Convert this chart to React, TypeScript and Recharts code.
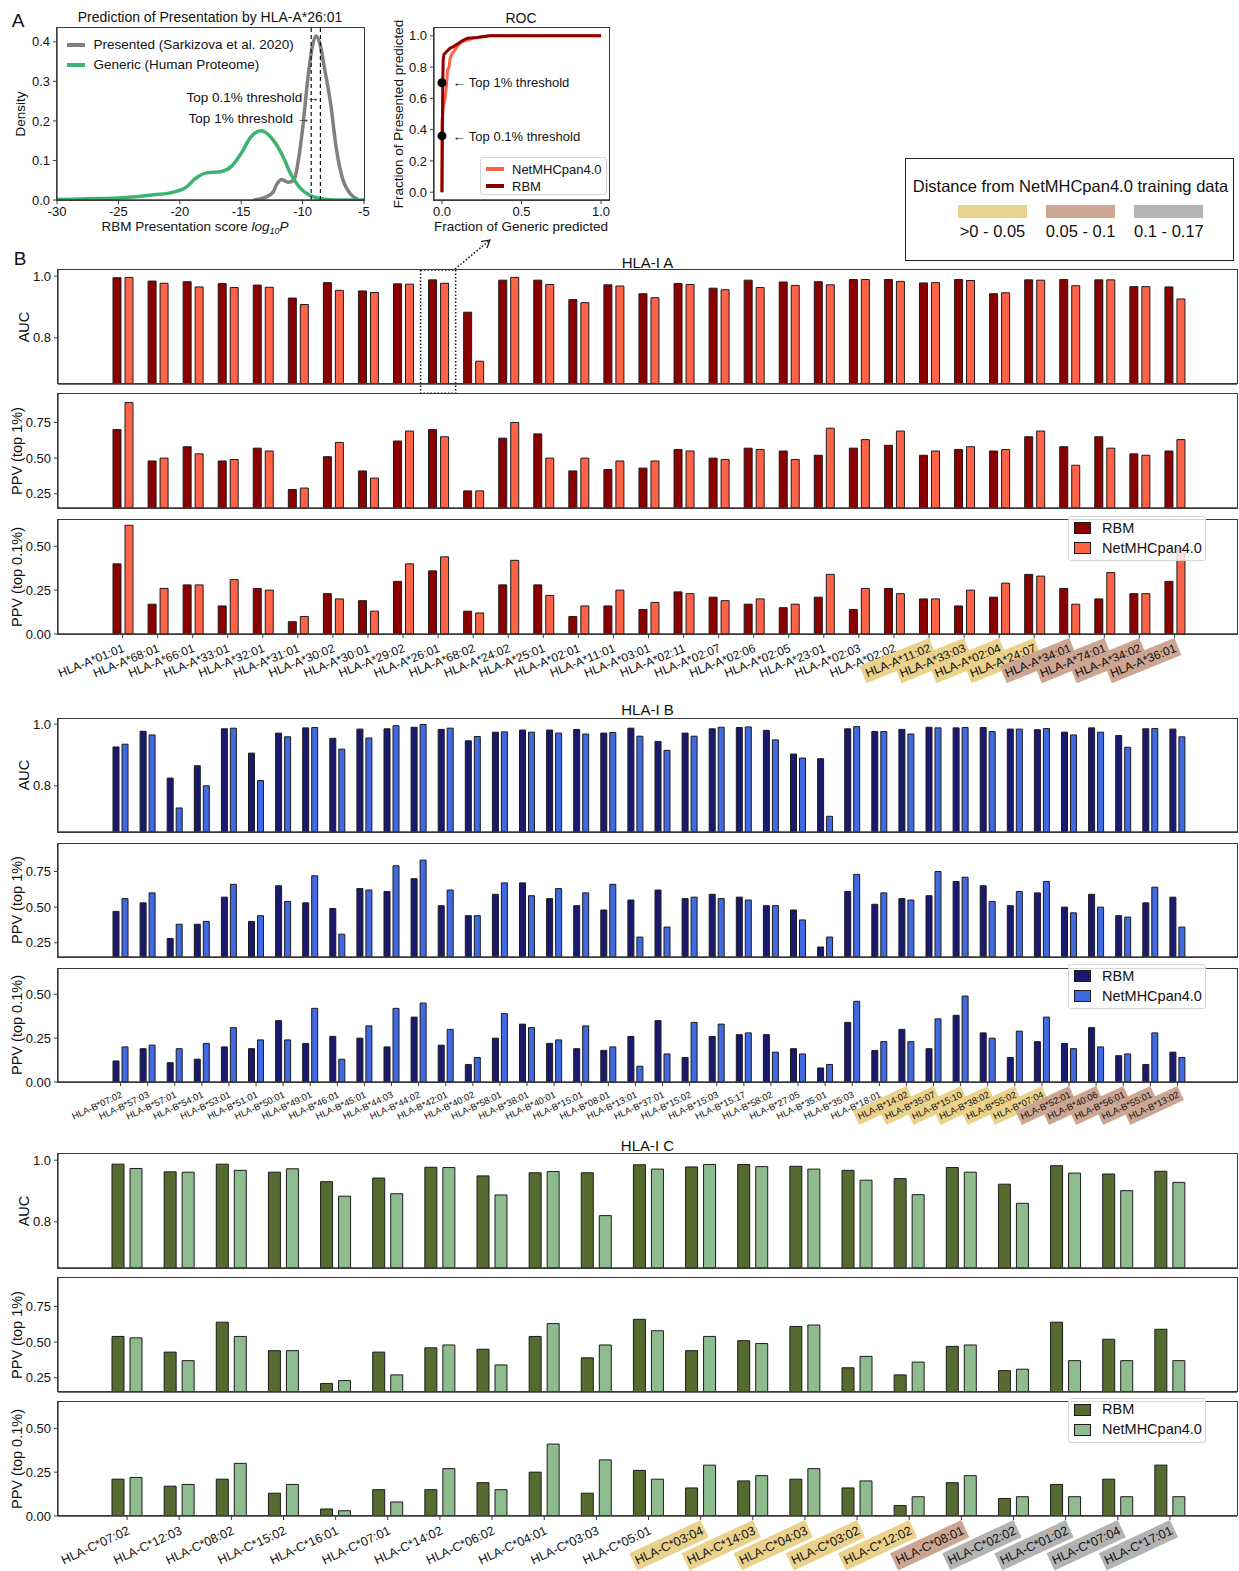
import React from "react";
import {
  BarChart,
  Bar,
  LineChart,
  Line,
  XAxis,
  YAxis,
  ReferenceArea,
  ReferenceLine,
  ReferenceDot,
} from "recharts";

const FONT = "'Liberation Sans', Arial, Helvetica, sans-serif";
const INK = "#111";
const FRAME = "#3a3a3a";
const EDGE = "#1c1c1c";

const GRAY_LINE = "#808080";
const GREEN_LINE = "#3CB371";
const RED_DARK = "#8B0000";
const RED_LIGHT = "#FF6347";
const BLUE_DARK = "#191970";
const BLUE_LIGHT = "#4169E1";
const OLIVE_DARK = "#556B2F";
const OLIVE_LIGHT = "#8FBC8F";

const DIST_COLORS = ["none", "#EBD28C", "#CDA693", "#B3B3B3"];
const DIST_LABELS = [">0 - 0.05", "0.05 - 0.1", "0.1 - 0.17"];

// ---- panel A: density of RBM presentation score
const GENERIC_X = [-30, -27.5, -25, -22.1, -20.5, -19.5, -18.7, -17.9, -16.6, -15.8, -15.0, -14.2, -13.4, -12.4, -11.6, -11.0, -10.3, -9.5, -8.5, -7.5, -5];
const GENERIC_Y = [0.001, 0.003, 0.005, 0.013, 0.02, 0.032, 0.055, 0.068, 0.072, 0.085, 0.118, 0.16, 0.175, 0.152, 0.11, 0.068, 0.034, 0.013, 0.003, 0, 0];
const PRESENTED_X = [-14.0, -13.1, -12.4, -12.1, -11.7, -11.2, -10.7, -10.4, -10.0, -9.6, -9.2, -8.9, -8.55, -8.2, -7.7, -7.3, -6.8, -6.1, -5.5];
const PRESENTED_Y = [0, 0.006, 0.02, 0.04, 0.052, 0.045, 0.05, 0.09, 0.18, 0.3, 0.39, 0.415, 0.39, 0.33, 0.24, 0.14, 0.06, 0.015, 0.002];
const DENS_XTICKS = [-30, -25, -20, -15, -10, -5];
const DENS_YTICKS = [0, 0.1, 0.2, 0.3, 0.4];
const DENS_THRESH_X = [-9.3, -8.55];
const DENS_THRESH_Y = [0.207, 0.259];
const DENS_THRESH_TEXT = ["Top 1% threshold \u2192", "Top 0.1% threshold  \u2192"];

// ---- panel A: ROC
const NET_FPR = [0, 0, 0.01, 0.02, 0.03, 0.035, 0.045, 0.05, 0.06, 0.075, 0.095, 0.12, 0.15, 0.2, 0.3, 1.0];
const NET_TPR = [0, 0.45, 0.55, 0.6, 0.7, 0.78, 0.8, 0.85, 0.88, 0.9, 0.93, 0.96, 0.97, 0.985, 1.0, 1.0];
const RBM_FPR = [0, 0.005, 0.008, 0.012, 0.03, 0.05, 0.07, 0.1, 0.13, 0.16, 0.22, 0.3, 1.0];
const RBM_TPR = [0, 0.7, 0.85, 0.88, 0.9, 0.92, 0.93, 0.95, 0.97, 0.985, 0.99, 1.0, 1.0];
const ROC_TICKS_X = [0, 0.5, 1];
const ROC_TICKS_Y = [0, 0.2, 0.4, 0.6, 0.8, 1.0];
const ROC_THRESH_TPR = [0.7, 0.36];
const ROC_THRESH_TEXT = ["\u2190  Top 1% threshold", "\u2190  Top 0.1% threshold"];

// ---- panel B: HLA-I A
const A_ALLELES = ["HLA-A*01:01", "HLA-A*68:01", "HLA-A*66:01", "HLA-A*33:01", "HLA-A*32:01", "HLA-A*31:01", "HLA-A*30:02", "HLA-A*30:01", "HLA-A*29:02", "HLA-A*26:01", "HLA-A*68:02", "HLA-A*24:02", "HLA-A*25:01", "HLA-A*02:01", "HLA-A*11:01", "HLA-A*03:01", "HLA-A*02:11", "HLA-A*02:07", "HLA-A*02:06", "HLA-A*02:05", "HLA-A*23:01", "HLA-A*02:03", "HLA-A*02:02", "HLA-A*11:02", "HLA-A*33:03", "HLA-A*02:04", "HLA-A*24:07", "HLA-A*34:01", "HLA-A*74:01", "HLA-A*34:02", "HLA-A*36:01"];
const A_DIST = [0, 0, 0, 0, 0, 0, 0, 0, 0, 0, 0, 0, 0, 0, 0, 0, 0, 0, 0, 0, 0, 0, 0, 1, 1, 1, 1, 2, 2, 2, 2];
const A_RBM_AUC = [0.995, 0.984, 0.982, 0.976, 0.971, 0.929, 0.979, 0.952, 0.975, 0.988, 0.883, 0.987, 0.987, 0.924, 0.972, 0.943, 0.976, 0.961, 0.987, 0.981, 0.982, 0.989, 0.989, 0.978, 0.989, 0.943, 0.988, 0.989, 0.988, 0.966, 0.965];
const A_NET_AUC = [0.996, 0.977, 0.965, 0.963, 0.964, 0.908, 0.954, 0.947, 0.974, 0.977, 0.724, 0.996, 0.973, 0.914, 0.968, 0.93, 0.973, 0.956, 0.963, 0.97, 0.972, 0.989, 0.983, 0.979, 0.986, 0.946, 0.987, 0.969, 0.988, 0.966, 0.926];
const A_RBM_PPV1 = [0.7, 0.48, 0.58, 0.48, 0.57, 0.28, 0.51, 0.41, 0.62, 0.7, 0.27, 0.64, 0.67, 0.41, 0.42, 0.43, 0.56, 0.5, 0.57, 0.55, 0.52, 0.57, 0.59, 0.52, 0.56, 0.55, 0.65, 0.58, 0.65, 0.53, 0.55];
const A_NET_PPV1 = [0.89, 0.5, 0.53, 0.49, 0.55, 0.29, 0.61, 0.36, 0.69, 0.65, 0.27, 0.75, 0.5, 0.5, 0.48, 0.48, 0.55, 0.49, 0.56, 0.49, 0.71, 0.63, 0.69, 0.55, 0.58, 0.56, 0.69, 0.45, 0.57, 0.52, 0.63];
const A_RBM_PPV01 = [0.4, 0.17, 0.28, 0.16, 0.26, 0.07, 0.23, 0.19, 0.3, 0.36, 0.13, 0.28, 0.28, 0.1, 0.16, 0.14, 0.24, 0.21, 0.17, 0.15, 0.21, 0.14, 0.26, 0.2, 0.16, 0.21, 0.34, 0.26, 0.2, 0.23, 0.3];
const A_NET_PPV01 = [0.62, 0.26, 0.28, 0.31, 0.25, 0.1, 0.2, 0.13, 0.4, 0.44, 0.12, 0.42, 0.22, 0.16, 0.25, 0.18, 0.23, 0.19, 0.2, 0.17, 0.34, 0.26, 0.23, 0.2, 0.25, 0.29, 0.33, 0.17, 0.35, 0.23, 0.49];

// ---- panel B: HLA-I B
const B_ALLELES = ["HLA-B*07:02", "HLA-B*57:03", "HLA-B*57:01", "HLA-B*54:01", "HLA-B*53:01", "HLA-B*51:01", "HLA-B*50:01", "HLA-B*49:01", "HLA-B*46:01", "HLA-B*45:01", "HLA-B*44:03", "HLA-B*44:02", "HLA-B*42:01", "HLA-B*40:02", "HLA-B*58:01", "HLA-B*38:01", "HLA-B*40:01", "HLA-B*15:01", "HLA-B*08:01", "HLA-B*13:01", "HLA-B*37:01", "HLA-B*15:02", "HLA-B*15:03", "HLA-B*15:17", "HLA-B*58:02", "HLA-B*27:05", "HLA-B*35:01", "HLA-B*35:03", "HLA-B*18:01", "HLA-B*14:02", "HLA-B*35:07", "HLA-B*15:10", "HLA-B*38:02", "HLA-B*55:02", "HLA-B*07:04", "HLA-B*52:01", "HLA-B*40:06", "HLA-B*56:01", "HLA-B*55:01", "HLA-B*13:02"];
const B_DIST = [0, 0, 0, 0, 0, 0, 0, 0, 0, 0, 0, 0, 0, 0, 0, 0, 0, 0, 0, 0, 0, 0, 0, 0, 0, 0, 0, 0, 0, 1, 1, 1, 1, 1, 1, 2, 2, 2, 2, 2];
const B_RBM_AUC = [0.926, 0.977, 0.825, 0.865, 0.985, 0.906, 0.971, 0.988, 0.954, 0.984, 0.985, 0.99, 0.983, 0.946, 0.974, 0.981, 0.981, 0.983, 0.971, 0.987, 0.944, 0.971, 0.985, 0.989, 0.98, 0.903, 0.888, 0.985, 0.976, 0.983, 0.99, 0.988, 0.989, 0.984, 0.982, 0.974, 0.988, 0.963, 0.985, 0.984];
const B_NET_AUC = [0.935, 0.965, 0.728, 0.8, 0.987, 0.817, 0.959, 0.989, 0.919, 0.955, 0.995, 0.999, 0.987, 0.96, 0.975, 0.974, 0.971, 0.968, 0.973, 0.961, 0.915, 0.961, 0.99, 0.991, 0.949, 0.89, 0.701, 0.992, 0.976, 0.968, 0.988, 0.989, 0.976, 0.984, 0.986, 0.965, 0.974, 0.925, 0.986, 0.959];
const B_RBM_PPV1 = [0.47, 0.53, 0.28, 0.38, 0.57, 0.4, 0.65, 0.53, 0.49, 0.63, 0.61, 0.7, 0.51, 0.44, 0.59, 0.67, 0.56, 0.51, 0.48, 0.55, 0.62, 0.56, 0.59, 0.57, 0.51, 0.48, 0.22, 0.61, 0.52, 0.56, 0.58, 0.68, 0.65, 0.51, 0.6, 0.5, 0.59, 0.44, 0.53, 0.57];
const B_NET_PPV1 = [0.56, 0.6, 0.38, 0.4, 0.66, 0.44, 0.54, 0.72, 0.31, 0.62, 0.79, 0.83, 0.62, 0.44, 0.67, 0.58, 0.63, 0.6, 0.66, 0.29, 0.36, 0.57, 0.56, 0.55, 0.51, 0.41, 0.29, 0.73, 0.6, 0.55, 0.75, 0.71, 0.54, 0.61, 0.68, 0.46, 0.5, 0.43, 0.64, 0.36];
const B_RBM_PPV01 = [0.12, 0.19, 0.11, 0.13, 0.2, 0.19, 0.35, 0.22, 0.26, 0.25, 0.2, 0.37, 0.21, 0.1, 0.25, 0.33, 0.22, 0.19, 0.18, 0.26, 0.35, 0.14, 0.26, 0.27, 0.27, 0.19, 0.08, 0.34, 0.18, 0.3, 0.19, 0.38, 0.28, 0.14, 0.23, 0.22, 0.31, 0.15, 0.1, 0.17];
const B_NET_PPV01 = [0.2, 0.21, 0.19, 0.22, 0.31, 0.24, 0.24, 0.42, 0.13, 0.32, 0.42, 0.45, 0.3, 0.14, 0.39, 0.31, 0.24, 0.32, 0.2, 0.09, 0.16, 0.34, 0.33, 0.28, 0.17, 0.16, 0.1, 0.46, 0.23, 0.23, 0.36, 0.49, 0.25, 0.29, 0.37, 0.19, 0.2, 0.16, 0.28, 0.14];

// ---- panel B: HLA-I C
const C_ALLELES = ["HLA-C*07:02", "HLA-C*12:03", "HLA-C*08:02", "HLA-C*15:02", "HLA-C*16:01", "HLA-C*07:01", "HLA-C*14:02", "HLA-C*06:02", "HLA-C*04:01", "HLA-C*03:03", "HLA-C*05:01", "HLA-C*03:04", "HLA-C*14:03", "HLA-C*04:03", "HLA-C*03:02", "HLA-C*12:02", "HLA-C*08:01", "HLA-C*02:02", "HLA-C*01:02", "HLA-C*07:04", "HLA-C*17:01"];
const C_DIST = [0, 0, 0, 0, 0, 0, 0, 0, 0, 0, 0, 1, 1, 1, 1, 1, 2, 3, 3, 3, 3];
const C_RBM_AUC = [0.987, 0.962, 0.987, 0.961, 0.93, 0.942, 0.977, 0.949, 0.959, 0.959, 0.985, 0.978, 0.986, 0.98, 0.967, 0.94, 0.976, 0.922, 0.982, 0.955, 0.964];
const C_NET_AUC = [0.973, 0.961, 0.967, 0.972, 0.883, 0.891, 0.976, 0.887, 0.963, 0.82, 0.971, 0.986, 0.979, 0.971, 0.935, 0.888, 0.961, 0.86, 0.958, 0.901, 0.928];
const C_RBM_PPV1 = [0.54, 0.43, 0.64, 0.44, 0.21, 0.43, 0.46, 0.45, 0.54, 0.39, 0.66, 0.44, 0.51, 0.61, 0.32, 0.27, 0.47, 0.3, 0.64, 0.52, 0.59];
const C_NET_PPV1 = [0.53, 0.37, 0.54, 0.44, 0.23, 0.27, 0.48, 0.34, 0.63, 0.48, 0.58, 0.54, 0.49, 0.62, 0.4, 0.36, 0.48, 0.31, 0.37, 0.37, 0.37];
const C_RBM_PPV01 = [0.21, 0.17, 0.21, 0.13, 0.04, 0.15, 0.15, 0.19, 0.25, 0.13, 0.26, 0.16, 0.2, 0.21, 0.16, 0.06, 0.19, 0.1, 0.18, 0.21, 0.29];
const C_NET_PPV01 = [0.22, 0.18, 0.3, 0.18, 0.03, 0.08, 0.27, 0.15, 0.41, 0.32, 0.21, 0.29, 0.23, 0.27, 0.2, 0.11, 0.23, 0.11, 0.11, 0.11, 0.11];

const METRICS = [
  { label: "AUC", domain: [0.65, 1.02], ticks: [0.8, 1.0], digits: 1, labelX: 23.7 },
  { label: "PPV (top 1%)", domain: [0.15, 0.95], ticks: [0.25, 0.5, 0.75], digits: 2, labelX: 17.2 },
  { label: "PPV (top 0.1%)", domain: [0, 0.65], ticks: [0, 0.25, 0.5], digits: 2, labelX: 17.2 },
];

const GROUPS = [
  {
    title: "HLA-I A", names: A_ALLELES, dist: A_DIST,
    rbm: [A_RBM_AUC, A_RBM_PPV1, A_RBM_PPV01], net: [A_NET_AUC, A_NET_PPV1, A_NET_PPV01],
    dark: RED_DARK, light: RED_LIGHT, tops: [269.5, 394, 520], titleY: 261.5,
    pad: { left: 47, right: 45 }, barSize: 8, barGap: 4,
    labelSize: 12, labelAngle: 22, labelEm: 5.836,
  },
  {
    title: "HLA-I B", names: B_ALLELES, dist: B_DIST,
    rbm: [B_RBM_AUC, B_RBM_PPV1, B_RBM_PPV01], net: [B_NET_AUC, B_NET_PPV1, B_NET_PPV01],
    dark: BLUE_DARK, light: BLUE_LIGHT, tops: [718.3, 843.3, 968.3], titleY: 709,
    pad: { left: 49, right: 46 }, barSize: 6, barGap: 3,
    labelSize: 9.3, labelAngle: 25, labelEm: 5.836,
  },
  {
    title: "HLA-I C", names: C_ALLELES, dist: C_DIST,
    rbm: [C_RBM_AUC, C_RBM_PPV1, C_RBM_PPV01], net: [C_NET_AUC, C_NET_PPV1, C_NET_PPV01],
    dark: OLIVE_DARK, light: OLIVE_LIGHT, tops: [1154, 1277.7, 1401.7], titleY: 1145,
    pad: { left: 43, right: 41 }, barSize: 12, barGap: 6,
    labelSize: 12.5, labelAngle: 25, labelEm: 5.891,
  },
];

const PLOT_H = 114;
const BAR_LEFT = 58;
const BAR_RIGHT = 1237;

function Txt({ x, y, size = 13, rotate = 0, anchor = "middle", children, style }: any) {
  const tx = anchor === "middle" ? "-50%" : anchor === "end" ? "-100%" : "0";
  return (
    <div
      style={{
        position: "absolute", left: x, top: y, transform: `translate(${tx},-50%) rotate(${rotate}deg)`,
        fontSize: size, whiteSpace: "nowrap", lineHeight: 1, color: INK, fontFamily: FONT, ...style,
      }}
    >
      {children}
    </div>
  );
}

// the full matplotlib-style box round a plot area
function Frame({ x0, y0, x1, y1 }: any) {
  return (
    <div
      style={{
        position: "absolute", left: x0 - 0.65, top: y0 - 0.65, width: x1 - x0 + 1.3, height: y1 - y0 + 1.3,
        boxSizing: "border-box", border: `1.3px solid ${FRAME}`, pointerEvents: "none",
      }}
    />
  );
}

const axisLine = { stroke: FRAME, strokeWidth: 1.3 };
const tickFont = { fontSize: 13, fill: INK, fontFamily: FONT };

function AlleleTick({ x, y, payload, g }: any) {
  const idx = g.names.indexOf(payload.value);
  const d = g.dist[idx];
  const fs = g.labelSize;
  const p = 2.5;
  const w = g.labelEm * fs;
  const h = fs * 1.12;
  return (
    <g transform={`translate(${x},${y}) rotate(${-g.labelAngle})`}>
      {d > 0 ? <rect x={-w - 2 * p} y={0} width={w + 2 * p} height={h + 2 * p} fill={DIST_COLORS[d]} /> : null}
      <text x={-p} y={p + fs * 0.9} textAnchor="end" fontSize={fs} fontFamily={FONT} fill={INK}>
        {payload.value}
      </text>
    </g>
  );
}

function BarPanel({ g, mi }: any) {
  const m = METRICS[mi];
  const top = g.tops[mi];
  const withLabels = mi === 2;
  const xh = withLabels ? 80 : 10;
  const data = g.names.map((name: string, i: number) => ({ name, rbm: g.rbm[mi][i], net: g.net[mi][i] }));
  return (
    <div style={{ position: "absolute", left: 0, top: top - 4 }}>
      <BarChart
        width={1239}
        height={4 + PLOT_H + xh}
        data={data}
        margin={{ top: 4, right: 1239 - BAR_RIGHT, bottom: 0, left: 0 }}
        barSize={g.barSize}
        barGap={g.barGap}
      >
        <XAxis
          dataKey="name"
          interval={0}
          padding={g.pad}
          height={xh}
          tickSize={4}
          tickMargin={0}
          axisLine={axisLine}
          tickLine={{ stroke: FRAME }}
          tick={withLabels ? (p: any) => <AlleleTick {...p} g={g} /> : false}
        />
        <YAxis
          type="number"
          domain={m.domain}
          ticks={m.ticks}
          allowDataOverflow
          width={BAR_LEFT}
          tickSize={4}
          tickMargin={3}
          axisLine={axisLine}
          tickLine={{ stroke: FRAME }}
          tick={tickFont}
          tickFormatter={(v: number) => v.toFixed(m.digits)}
        />
        <Bar dataKey="rbm" fill={g.dark} stroke={EDGE} strokeWidth={1} isAnimationActive={false} />
        <Bar dataKey="net" fill={g.light} stroke={EDGE} strokeWidth={1} isAnimationActive={false} />
        {g.title === "HLA-I A" && mi === 0 ? (
          <ReferenceArea
            x1="HLA-A*26:01"
            x2="HLA-A*26:01"
            y1={0.62}
            y2={1.02}
            ifOverflow="visible"
            fill="none"
            stroke={INK}
            strokeWidth={1.5}
            strokeDasharray="1.5 2"
          />
        ) : null}
      </BarChart>
    </div>
  );
}

function GroupLegend({ g }: any) {
  const top = g.tops[2] - 4;
  const rows = [
    { label: "RBM", color: g.dark },
    { label: "NetMHCpan4.0", color: g.light },
  ];
  return (
    <div
      style={{
        position: "absolute", left: 1068, top, width: 138, height: 45, boxSizing: "border-box",
        background: "rgba(255,255,255,0.8)", border: "1px solid #d4d4d4", borderRadius: 3,
      }}
    >
      {rows.map((r, i) => (
        <div key={r.label} style={{ position: "absolute", left: 5, top: 5 + i * 20, height: 12, display: "flex", alignItems: "center" }}>
          <div style={{ width: 15, height: 10, background: r.color, border: `1px solid ${EDGE}` }} />
          <span style={{ marginLeft: 11, fontSize: 14.5, fontFamily: FONT, color: INK, lineHeight: 1 }}>{r.label}</span>
        </div>
      ))}
    </div>
  );
}

function DensityPanel() {
  const generic = GENERIC_X.map((x, i) => ({ x, y: GENERIC_Y[i] }));
  const presented = PRESENTED_X.map((x, i) => ({ x, y: PRESENTED_Y[i] }));
  return (
    <div style={{ position: "absolute", left: 0, top: 0 }}>
      <LineChart width={370} height={240} margin={{ top: 28, right: 6, bottom: 0, left: 0 }}>
        <XAxis
          type="number" dataKey="x" domain={[-30, -5]} ticks={DENS_XTICKS} allowDataOverflow height={40}
          tickSize={4} tickMargin={3} axisLine={axisLine} tickLine={{ stroke: FRAME }} tick={tickFont}
        />
        <YAxis
          type="number" domain={[0, 0.435]} ticks={DENS_YTICKS} allowDataOverflow width={57}
          tickSize={4} tickMargin={3} axisLine={axisLine} tickLine={{ stroke: FRAME }} tick={tickFont}
          tickFormatter={(v: number) => v.toFixed(1)}
        />
        <Line data={presented} dataKey="y" type="monotone" stroke={GRAY_LINE} strokeWidth={3.5} dot={false} isAnimationActive={false} />
        <Line data={generic} dataKey="y" type="monotone" stroke={GREEN_LINE} strokeWidth={3.5} dot={false} isAnimationActive={false} />
        {DENS_THRESH_X.map((x) => (
          <ReferenceLine key={x} x={x} stroke={INK} strokeWidth={1.2} strokeDasharray="4 3" />
        ))}
        {DENS_THRESH_X.map((x, i) => (
          <ReferenceDot
            key={`d${x}`}
            x={x}
            y={DENS_THRESH_Y[i]}
            r={0}
            stroke="none"
            label={{ value: DENS_THRESH_TEXT[i], position: "left", offset: 1, fontSize: 13.5, fill: INK, fontFamily: FONT }}
          />
        ))}
      </LineChart>
    </div>
  );
}

function RocPanel() {
  const net = NET_FPR.map((x, i) => ({ x, y: NET_TPR[i] }));
  const rbm = RBM_FPR.map((x, i) => ({ x, y: RBM_TPR[i] }));
  return (
    <div style={{ position: "absolute", left: 370, top: 0 }}>
      <LineChart width={245} height={240} margin={{ top: 28, right: 6, bottom: 0, left: 0 }}>
        <XAxis
          type="number" dataKey="x" domain={[-0.05, 1.05]} ticks={ROC_TICKS_X} allowDataOverflow height={40}
          tickSize={4} tickMargin={3} axisLine={axisLine} tickLine={{ stroke: FRAME }} tick={tickFont}
          tickFormatter={(v: number) => v.toFixed(1)}
        />
        <YAxis
          type="number" domain={[-0.05, 1.05]} ticks={ROC_TICKS_Y} allowDataOverflow width={64}
          tickSize={4} tickMargin={3} axisLine={axisLine} tickLine={{ stroke: FRAME }} tick={tickFont}
          tickFormatter={(v: number) => v.toFixed(1)}
        />
        <Line data={net} dataKey="y" type="linear" stroke={RED_LIGHT} strokeWidth={3} dot={false} isAnimationActive={false} />
        <Line data={rbm} dataKey="y" type="linear" stroke={RED_DARK} strokeWidth={3} dot={false} isAnimationActive={false} />
        {ROC_THRESH_TPR.map((y, i) => (
          <ReferenceDot
            key={y}
            x={0}
            y={y}
            r={4.5}
            fill="#000"
            stroke="none"
            label={{ value: ROC_THRESH_TEXT[i], position: "right", offset: 6, fontSize: 13, fill: INK, fontFamily: FONT }}
          />
        ))}
      </LineChart>
    </div>
  );
}

export default function App() {
  return (
    <div style={{ position: "relative", width: 1239, height: 1571, background: "#fff", fontFamily: FONT, overflow: "hidden" }}>
      <style>{"body{margin:0;background:#fff}"}</style>

      {/* panel A */}
      <Txt x={18} y={20} size={19}>A</Txt>
      <Txt x={210} y={17} size={14}>Prediction of Presentation by HLA-A*26:01</Txt>
      <Txt x={21} y={114} size={13.5} rotate={-90}>Density</Txt>
      <Txt x={195} y={228} size={13.5}>
        RBM Presentation score <i>log</i><sub style={{ fontSize: 9 }}><i>10</i></sub><i>P</i>
      </Txt>
      <DensityPanel />
      <Frame x0={57} y0={28} x1={364} y1={200} />
      {[
        { label: "Presented (Sarkizova et al. 2020)", color: GRAY_LINE, y: 45 },
        { label: "Generic (Human Proteome)", color: GREEN_LINE, y: 65 },
      ].map((r) => (
        <div key={r.label}>
          <div style={{ position: "absolute", left: 67, top: r.y - 2, width: 18, height: 4, background: r.color }} />
          <Txt x={93.5} y={r.y} size={13.5} anchor="start">{r.label}</Txt>
        </div>
      ))}

      <Txt x={521} y={18} size={14}>ROC</Txt>
      <Txt x={399} y={114} size={13.5} rotate={-90}>Fraction of Presented predicted</Txt>
      <Txt x={521} y={227} size={13.5}>Fraction of Generic predicted</Txt>
      <RocPanel />
      <Frame x0={434} y0={28} x1={609} y1={200} />
      <div
        style={{
          position: "absolute", left: 480, top: 157, width: 127, height: 38, boxSizing: "border-box",
          background: "rgba(255,255,255,0.8)", border: "1px solid #d4d4d4", borderRadius: 3,
        }}
      >
        {[
          { label: "NetMHCpan4.0", color: RED_LIGHT },
          { label: "RBM", color: RED_DARK },
        ].map((r, i) => (
          <div key={r.label} style={{ position: "absolute", left: 5, top: 5 + i * 17, height: 12, display: "flex", alignItems: "center" }}>
            <div style={{ width: 18, height: 3.5, background: r.color }} />
            <span style={{ marginLeft: 8, fontSize: 13, fontFamily: FONT, color: INK, lineHeight: 1 }}>{r.label}</span>
          </div>
        ))}
      </div>

      {/* distance legend */}
      <div style={{ position: "absolute", left: 905, top: 158, width: 329, height: 103, boxSizing: "border-box", border: "1.3px solid #222" }}>
        <Txt x={164.5} y={27} size={16.5}>Distance from NetMHCpan4.0 training data</Txt>
        {DIST_LABELS.map((lab, i) => (
          <div key={lab}>
            <div style={{ position: "absolute", left: 52 + i * 88.2, top: 46, width: 69, height: 13, background: DIST_COLORS[i + 1] }} />
            <Txt x={86.5 + i * 88.2} y={71.5} size={16.5}>{lab}</Txt>
          </div>
        ))}
      </div>

      {/* panel B */}
      <Txt x={20} y={258} size={19}>B</Txt>
      {GROUPS.map((g) => (
        <div key={g.title}>
          <Txt x={647.5} y={g.titleY} size={15}>{g.title}</Txt>
          {METRICS.map((m, mi) => (
            <BarPanel key={m.label} g={g} mi={mi} />
          ))}
          {METRICS.map((m, mi) => (
            <Frame key={`f${m.label}`} x0={BAR_LEFT} y0={g.tops[mi]} x1={BAR_RIGHT} y1={g.tops[mi] + PLOT_H} />
          ))}
          {METRICS.map((m, mi) => (
            <Txt key={`yl${m.label}`} x={m.labelX} y={g.tops[mi] + PLOT_H / 2} size={14.5} rotate={-90}>
              {m.label}
            </Txt>
          ))}
          <GroupLegend g={g} />
        </div>
      ))}

      {/* dotted zoom arrow from HLA-A*26:01 box to the ROC panel */}
      <svg width={1239} height={1571} style={{ position: "absolute", left: 0, top: 0, pointerEvents: "none" }}>
        <defs>
          <marker id="zoomHead" markerWidth="9" markerHeight="9" refX="8" refY="4.5" orient="auto" markerUnits="userSpaceOnUse">
            <path d="M0,0 L8,4.5 L0,9" fill="none" stroke={INK} strokeWidth="1.2" />
          </marker>
        </defs>
        <line x1={455} y1={269} x2={490} y2={240} stroke={INK} strokeWidth={1.5} strokeDasharray="1.5 2" markerEnd="url(#zoomHead)" />
      </svg>
    </div>
  );
}
